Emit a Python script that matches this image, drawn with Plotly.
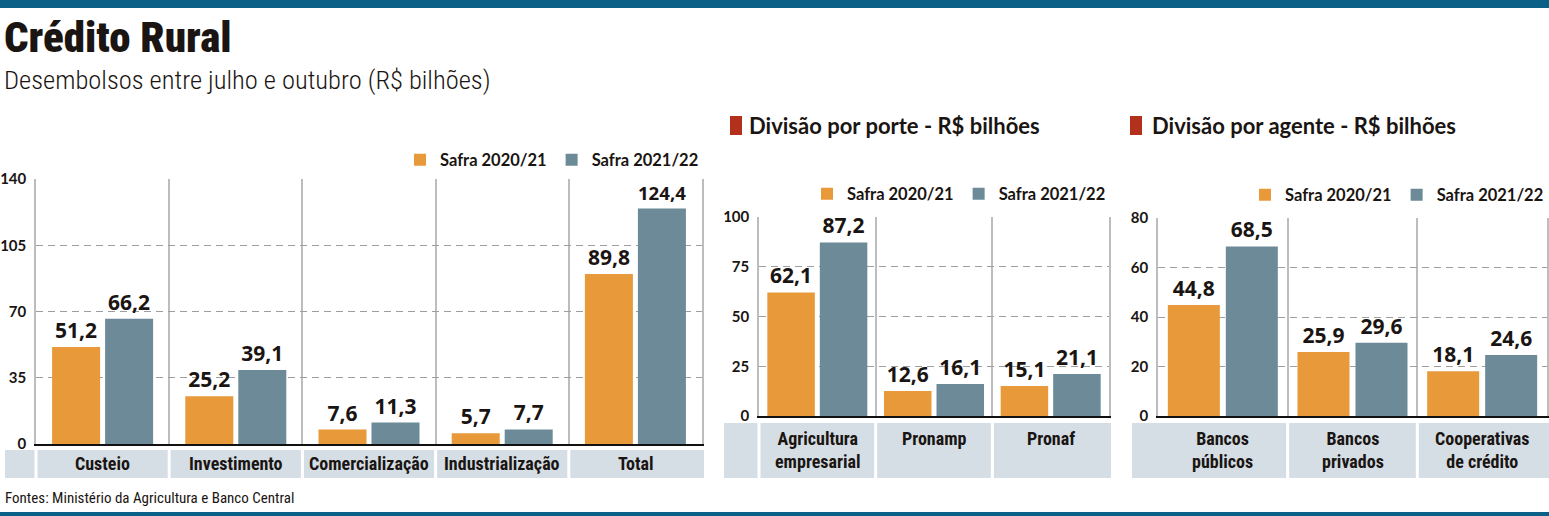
import plotly.graph_objects as go

W, H = 1549, 516

# ---------------- data ----------------
series_names = ["Safra 2020/21", "Safra 2021/22"]

cat1 = ["Custeio", "Investimento", "Comercialização", "Industrialização", "Total"]
s1_2020 = [51.2, 25.2, 7.6, 5.7, 89.8]
s1_2021 = [66.2, 39.1, 11.3, 7.7, 124.4]
y1_ticks = [0, 35, 70, 105, 140]

cat2 = ["Agricultura<br>empresarial", "Pronamp", "Pronaf"]
s2_2020 = [62.1, 12.6, 15.1]
s2_2021 = [87.2, 16.1, 21.1]
y2_ticks = [0, 25, 50, 75, 100]

cat3 = ["Bancos<br>públicos", "Bancos<br>privados", "Cooperativas<br>de crédito"]
s3_2020 = [44.8, 25.9, 18.1]
s3_2021 = [68.5, 29.6, 24.6]
y3_ticks = [0, 20, 40, 60, 80]

title = "Crédito Rural"
subtitle = "Desembolsos entre julho e outubro (R$ bilhões)"
panel2_title = "Divisão por porte - R$ bilhões"
panel3_title = "Divisão por agente - R$ bilhões"
source = "Fontes: Ministério da Agricultura e Banco Central"

# ---------------- style ----------------
ORANGE = "#E8993A"
BLUE = "#6C8A98"
BAND = "#D5DEE5"
RED = "#B3301C"
DARKBLUE = "#0B6088"
TXT = "#1A1512"
GRID = "#9E9E9E"
VGRID = "#BDBDBD"
NARROW = "Roboto Condensed, Liberation Sans Narrow, DejaVu Sans Condensed, sans-serif"
BOLD = "Lato, Open Sans, sans-serif"
NUM = "Open Sans, Lato, sans-serif"


def px(x):
    return x / W


def py(y):
    return 1 - y / H


def fmt(v):
    return f"{v:.1f}".replace(".", ",")


panels = [
    dict(cats=cat1, a=s1_2020, b=s1_2021, ticks=y1_ticks,
         dom=(36, 702), ydom=(444, 179), bw=48, gap=5,
         band_x0=5, band_y=(450, 478), left_sep=True, lab_y=463, lab_anchor="middle",
         legend_xy=(704, 160)),
    dict(cats=cat2, a=s2_2020, b=s2_2021, ticks=y2_ticks,
         dom=(759, 1109), ydom=(416, 217), bw=47.5, gap=5,
         band_x0=724, band_y=(423, 478), left_sep=True, lab_y=426, lab_anchor="top",
         legend_xy=(1111, 194)),
    dict(cats=cat3, a=s3_2020, b=s3_2021, ticks=y3_ticks,
         dom=(1158, 1547), ydom=(416, 218), bw=52, gap=6,
         band_x0=1132, band_y=(423, 478), left_sep=False, lab_y=426, lab_anchor="top",
         legend_xy=(1549, 195)),
]

fig = go.Figure()
layout = dict(
    width=W, height=H, margin=dict(l=0, r=0, t=0, b=0, pad=0, autoexpand=False),
    paper_bgcolor="white", plot_bgcolor="white",
    barmode="overlay", separators=",.", showlegend=True,
)
shapes = []
annotations = []

for k, p in enumerate(panels, start=1):
    sfx = "" if k == 1 else str(k)
    n = len(p["cats"])
    unit = (p["dom"][1] - p["dom"][0]) / n
    bw = p["bw"] / unit
    gap = p["gap"] / unit
    off0 = -(2 * bw + gap) / 2
    xs = list(range(n))
    for j, (vals, col) in enumerate([(p["a"], ORANGE), (p["b"], BLUE)]):
        fig.add_trace(go.Bar(
            x=xs, y=vals, name=series_names[j],
            width=bw, offset=off0 + j * (bw + gap),
            marker=dict(color=col, line=dict(width=0)),
            text=[fmt(v) for v in vals], textposition="outside",
            textfont=dict(family=NUM, size=21, color=TXT, weight="bold"),
            cliponaxis=False,
            xaxis="x" + sfx, yaxis="y" + sfx,
            legend="legend" + sfx,
            hovertemplate="%{y}<extra>" + series_names[j] + "</extra>",
        ))
    layout["xaxis" + sfx] = dict(
        domain=[px(p["dom"][0]), px(p["dom"][1])], anchor="y" + sfx,
        range=[-0.5, n - 0.5], automargin=False,
        tickvals=[i - 0.5 for i in range(n + 1)], showticklabels=False, ticks="",
        showgrid=True, gridcolor=VGRID, gridwidth=1.5,
        showline=True, linecolor="#111111", linewidth=2, zeroline=False,
        fixedrange=True,
    )
    layout["yaxis" + sfx] = dict(
        domain=[py(p["ydom"][0]), py(p["ydom"][1])], anchor="x" + sfx,
        range=[p["ticks"][0], p["ticks"][-1]], automargin=False,
        tickvals=p["ticks"], ticktext=[str(t) for t in p["ticks"]],
        tickfont=dict(family=BOLD, size=15, color=TXT, weight="bold"),
        ticks="", ticklabelstandoff=5,
        showgrid=True, gridcolor=GRID, gridwidth=1.4, griddash="7px,5px",
        showline=True, mirror=True, linecolor=VGRID, linewidth=1.5,
        zeroline=False, fixedrange=True,
    )
    lx, ly = p["legend_xy"]
    layout["legend" + sfx] = dict(
        orientation="h", x=px(lx), xanchor="right", y=py(ly), yanchor="middle",
        font=dict(family=BOLD, size=16.5, color=TXT, weight="bold"),
        bgcolor="rgba(0,0,0,0)", itemwidth=30, traceorder="normal",
        itemclick=False, itemdoubleclick=False,
    )

    # category band below the chart
    by0, by1 = p["band_y"]
    shapes.append(dict(type="rect", xref="paper", yref="paper",
                       x0=px(p["band_x0"]), x1=px(p["dom"][1] + 2),
                       y0=py(by1), y1=py(by0), fillcolor=BAND, line=dict(width=0),
                       layer="below"))
    seps = range(0 if p["left_sep"] else 1, n)
    for i in seps:
        xx = p["dom"][0] + i * unit
        shapes.append(dict(type="line", xref="paper", yref="paper",
                           x0=px(xx), x1=px(xx), y0=py(by1), y1=py(by0),
                           line=dict(color="white", width=3)))
    for i, c in enumerate(p["cats"]):
        annotations.append(dict(
            text=c, xref="x" + sfx, x=i, yref="paper", y=py(p["lab_y"]),
            xanchor="center", yanchor=p["lab_anchor"], showarrow=False,
            font=dict(family=NARROW, size=18, color=TXT, weight="bold"),
            align="center",
        ))

# header / footer bars
shapes.append(dict(type="rect", xref="paper", yref="paper", x0=0, x1=1,
                   y0=py(8), y1=1, fillcolor=DARKBLUE, line=dict(width=0)))
shapes.append(dict(type="rect", xref="paper", yref="paper", x0=0, x1=1,
                   y0=0, y1=py(512), fillcolor=DARKBLUE, line=dict(width=0)))

# panel title markers
for x0, y0 in [(730, 116), (1130, 116)]:
    shapes.append(dict(type="rect", xref="paper", yref="paper",
                       x0=px(x0), x1=px(x0 + 12), y0=py(y0 + 19), y1=py(y0),
                       fillcolor=RED, line=dict(width=0)))

annotations += [
    dict(text=title, xref="paper", yref="paper", x=px(3), y=py(37),
         xanchor="left", yanchor="middle", showarrow=False, borderpad=0,
         font=dict(family="Roboto Condensed, Roboto, Lato, sans-serif", size=43,
                   color=TXT, weight=900)),
    dict(text=subtitle, xref="paper", yref="paper", x=px(3), y=py(79),
         xanchor="left", yanchor="middle", showarrow=False, borderpad=0,
         font=dict(family=NARROW, size=26.5, color=TXT, weight=300)),
    dict(text=panel2_title, xref="paper", yref="paper", x=px(747), y=py(125),
         xanchor="left", yanchor="middle", showarrow=False,
         font=dict(family=BOLD, size=22, color=TXT, weight="bold")),
    dict(text=panel3_title, xref="paper", yref="paper", x=px(1150), y=py(125),
         xanchor="left", yanchor="middle", showarrow=False,
         font=dict(family=BOLD, size=22, color=TXT, weight="bold")),
    dict(text=source, xref="paper", yref="paper", x=px(3), y=py(498),
         xanchor="left", yanchor="middle", showarrow=False,
         font=dict(family=NARROW, size=15, color=TXT)),
]

layout["shapes"] = shapes
layout["annotations"] = annotations
fig.update_layout(**layout)
fig.write_html(
    "out.html",
    config={"displayModeBar": False},
    post_script="document.body.style.margin='0';document.body.style.overflow='hidden';",
)
